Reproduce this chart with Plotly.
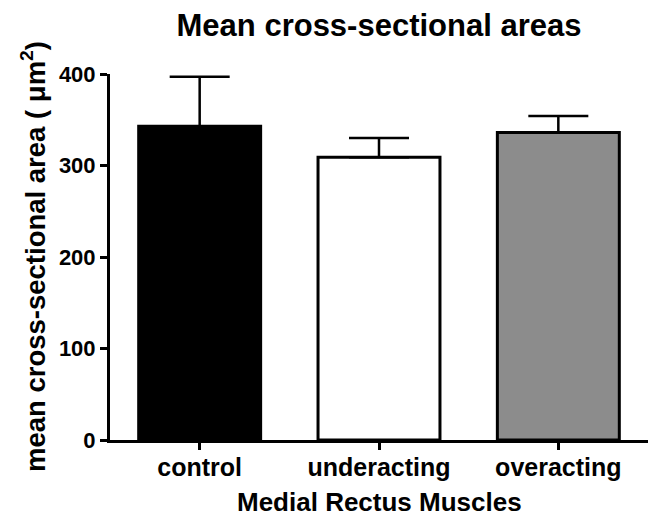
import plotly.graph_objects as go

categories = ["control", "underacting", "overacting"]
means = [343, 309, 336]
sd = [54, 21, 18]
colors = ["#000000", "#ffffff", "#8c8c8c"]
y_ticks = [0, 100, 200, 300, 400]
x_title = "Medial Rectus Muscles"
y_title = "mean cross-sectional area ( μm<sup>2</sup>)"
chart_title = "Mean cross-sectional areas"

FONT = "Liberation Sans, Arial, sans-serif"

# page body has an 8px default margin, so the figure is sized to fit inside the window
fig = go.Figure()
fig.add_trace(go.Bar(
    x=categories, y=means,
    marker=dict(color=colors, line=dict(color="black", width=3)),
    width=0.68,
    error_y=dict(type="data", array=sd, arrayminus=[0]*len(sd), symmetric=False,
                 color="black", thickness=2.5, width=30),
    showlegend=False,
))

fig.update_layout(
    width=649, height=511,
    paper_bgcolor="white", plot_bgcolor="white",
    margin=dict(l=102, r=9, t=66, b=79),
    title=dict(text=chart_title, x=0.5, xref="paper", y=0.967, yref="container",
               xanchor="center", yanchor="middle",
               font=dict(family=FONT, size=31, color="black", weight="bold")),
    annotations=[
        dict(text=x_title, xref="paper", yref="paper", x=0.5, y=-0.169,
             xanchor="center", yanchor="middle", showarrow=False,
             font=dict(family=FONT, size=26, color="black", weight="bold")),
        dict(text=y_title, xref="paper", yref="paper", x=-0.143, y=0.5, textangle=-90,
             xanchor="center", yanchor="middle", showarrow=False,
             font=dict(family=FONT, size=27.5, color="black", weight="bold")),
    ],
)
fig.update_xaxes(
    range=[-0.5, 2.5], showline=True, linecolor="black", linewidth=3,
    ticks="outside", ticklen=7, tickwidth=3, tickcolor="black",
    ticklabelstandoff=-4, automargin=False,
    tickfont=dict(family=FONT, size=25, color="black", weight="bold"),
    showgrid=False, zeroline=False,
)
fig.update_yaxes(
    range=[0, 400], tickvals=y_ticks, showline=True, linecolor="black", linewidth=3,
    ticks="outside", ticklen=7, tickwidth=3, tickcolor="black",
    automargin=False,
    tickfont=dict(family=FONT, size=22, color="black", weight="bold"),
    showgrid=False, zeroline=False,
)

fig.write_html("out.html")
